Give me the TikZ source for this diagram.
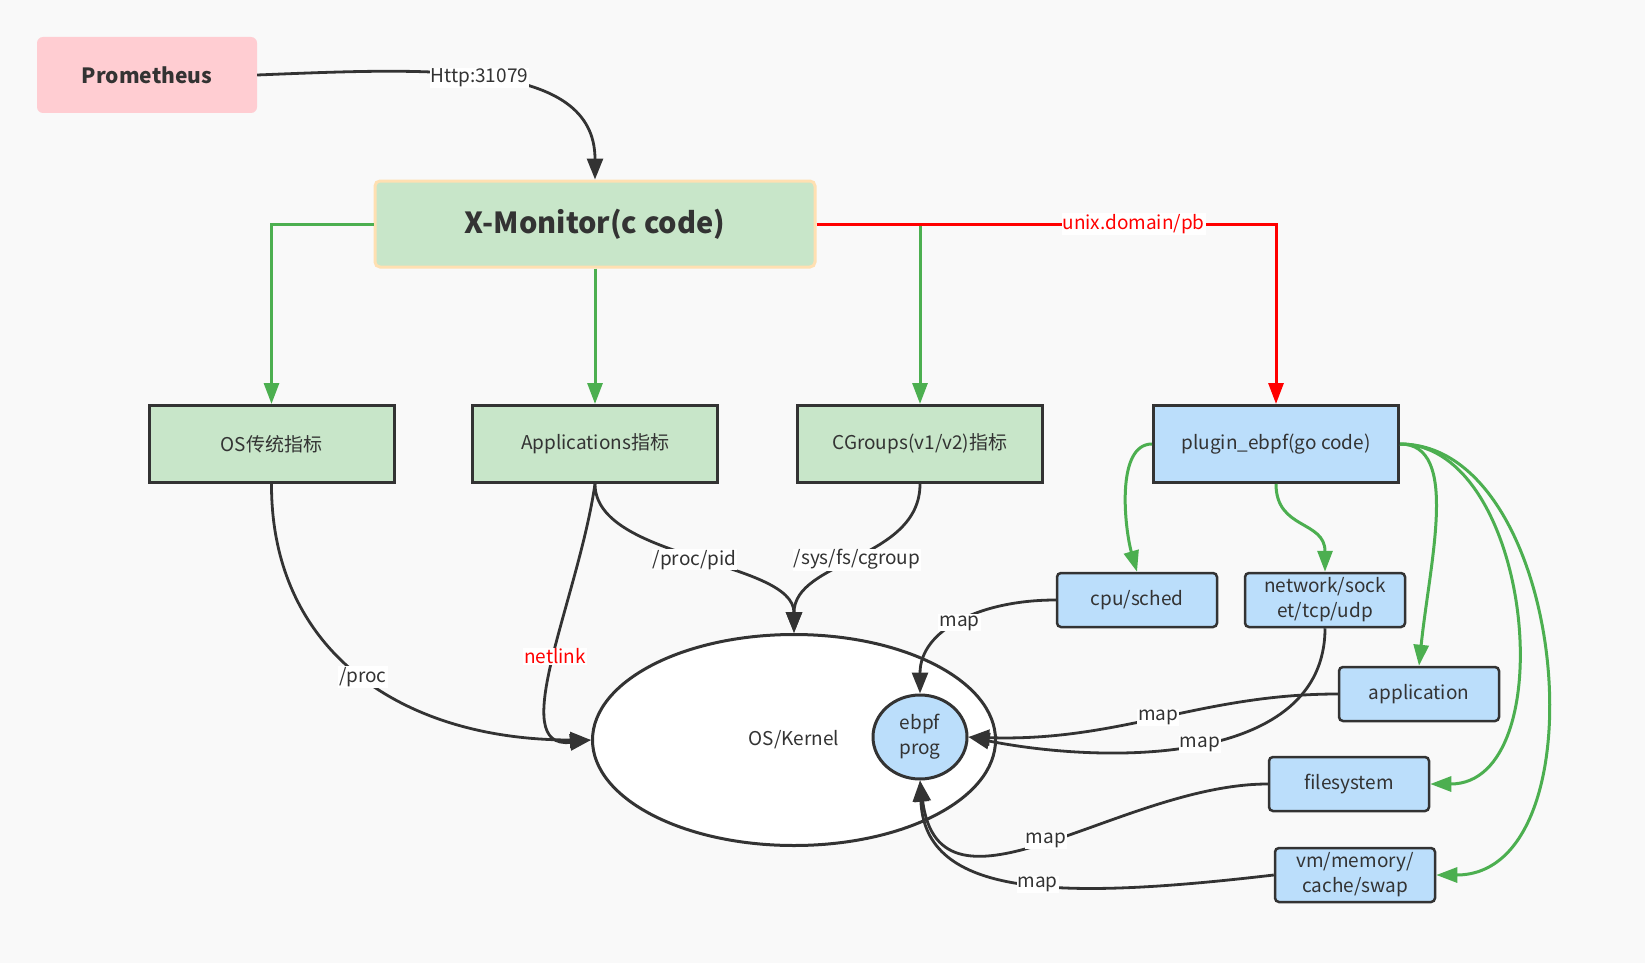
\documentclass[tikz,border=0pt]{standalone}
\usepackage{fontspec}
\setmainfont{Noto Sans CJK SC}
\usetikzlibrary{arrows.meta,shapes.geometric}

\definecolor{bgcol}{RGB}{249,249,249}
\definecolor{inkcol}{RGB}{51,51,51}
\definecolor{greencol}{RGB}{76,175,80}
\definecolor{boxgreen}{RGB}{200,230,201}
\definecolor{boxblue}{RGB}{187,222,251}
\definecolor{boxpink}{RGB}{255,205,210}
\definecolor{boxorange}{RGB}{255,224,178}

\begin{document}
\begin{tikzpicture}[x=1pt, y=-1pt,
      every node/.style={font=\fontsize{19}{25}\selectfont, text=inkcol},
      metricbox/.style={draw=inkcol, line width=3pt, fill=boxgreen,
        minimum width=245pt, minimum height=77pt},
      probebox/.style={draw=inkcol, line width=2.5pt, fill=boxblue, rounded corners=4pt,
        minimum width=160pt, minimum height=54pt, align=center, inner sep=2pt},
      linklabel/.style={fill=white, inner sep=1pt},
      greenlink/.style={draw=greencol, line width=3pt, -{Triangle[length=21pt,width=15pt]}},
      redlink/.style={draw=red, line width=3pt, -{Triangle[length=21pt,width=15pt]}},
      darklink/.style={draw=inkcol, line width=2.8pt, -{Triangle[length=21pt,width=16pt]}}]
      \fill[bgcol] (0,0) rectangle (1645,963);
      \useasboundingbox (0,0) rectangle (1645,963);
      % top
      \node[fill=boxpink, rounded corners=6pt, minimum width=220pt, minimum height=76pt,
        font=\fontsize{21}{25}\selectfont\bfseries] (prom) at (147,75) {Prometheus};
      \node[fill=boxgreen, draw=boxorange, line width=3pt, rounded corners=5pt,
        minimum width=440pt, minimum height=86pt,
        font=\fontsize{29}{34}\selectfont\bfseries] (xmon) at (595,224) {X-Monitor(c code)};
      % metric row
      \node[metricbox] (os) at (271.5,444) {OS传统指标};
      \node[metricbox] (apps) at (595,444) {Applications指标};
      \node[metricbox] (cgroups) at (920,444) {CGroups(v1/v2)指标};
      \node[metricbox, fill=boxblue] (plugin) at (1276,444) {plugin\_ebpf(go code)};
      % kernel
      \node[ellipse, draw=inkcol, line width=3pt, fill=white, minimum width=403pt,
        minimum height=211pt] (kernel) at (794,740) {OS/Kernel};
      \node[ellipse, draw=inkcol, line width=3pt, fill=boxblue, minimum width=94pt,
        minimum height=84pt, align=center, inner sep=0pt] (ebpf) at (920,737) {ebpf\\prog};
      % probes
      \node[probebox] (cpu) at (1137,600) {cpu/sched};
      \node[probebox] (net) at (1325,600) {network/sock\\et/tcp/udp};
      \node[probebox] (app) at (1419,694) {application};
      \node[probebox] (fs) at (1349,784) {filesystem};
      \node[probebox] (vm) at (1355,875) {vm/memory/\\cache/swap};

      \draw[darklink] (prom.east) .. controls (430,68) and (595,60) .. (xmon.north)
        node[linklabel, pos=0.47] {Http:31079};
      \draw[greenlink] (xmon.west) -| (os.north);
      \draw[greenlink] (xmon.south) -- (apps.north);
      \draw[greenlink] (xmon.east -| cgroups.north) -- (cgroups.north);
      \draw[redlink] (xmon.east) -| (plugin.north)
        node[linklabel, text=red, pos=0.345] {unix.domain/pb};

      \draw[darklink] (os.south) .. controls (271,650) and (400,740) .. (kernel.west)
        node[linklabel, pos=0.51] {/proc};
      \draw[darklink] (apps.south) .. controls (578,600) and (505,750) .. (kernel.west)
        node[linklabel, text=red, pos=0.49] {netlink};
      \draw[darklink] (apps.south) .. controls (595,560) and (794,560) .. (kernel.north)
        node[linklabel, pos=0.5] {/proc/pid};
      \draw[darklink] (cgroups.south) .. controls (920,560) and (794,560) .. (kernel.north)
        node[linklabel, pos=0.5] {/sys/fs/cgroup};

      \draw[greenlink] (plugin.west) .. controls (1115,444) and (1125,530) .. (cpu.north);
      \draw[greenlink] (plugin.south) .. controls (1276,530) and (1325,520) .. (net.north);
      \draw[greenlink] (plugin.east) .. controls (1460,444) and (1430,560) .. (app.north);
      \draw[greenlink] (plugin.east) to[out=0, in=0] (fs.east);
      \draw[greenlink] (plugin.east) to[out=0, in=0] (vm.east);

      \draw[darklink] (cpu.west) .. controls (980,600) and (920,630) .. (ebpf.north)
        node[linklabel, pos=0.5] {map};
      \draw[darklink] (app.west) .. controls (1200,694) and (1120,742) .. (ebpf.east)
        node[linklabel, pos=0.5] {map};
      \draw[darklink] (net.south) .. controls (1325,765) and (1110,765) .. (ebpf.east)
        node[linklabel, pos=0.5] {map};
      \draw[darklink] (fs.west) .. controls (1120,784) and (940,935) .. (ebpf.south)
        node[linklabel, pos=0.5] {map};
      \draw[darklink] (vm.west) .. controls (1060,900) and (925,898) .. (ebpf.south)
        node[linklabel, pos=0.45] {map};
    \end{tikzpicture}
\end{document}
